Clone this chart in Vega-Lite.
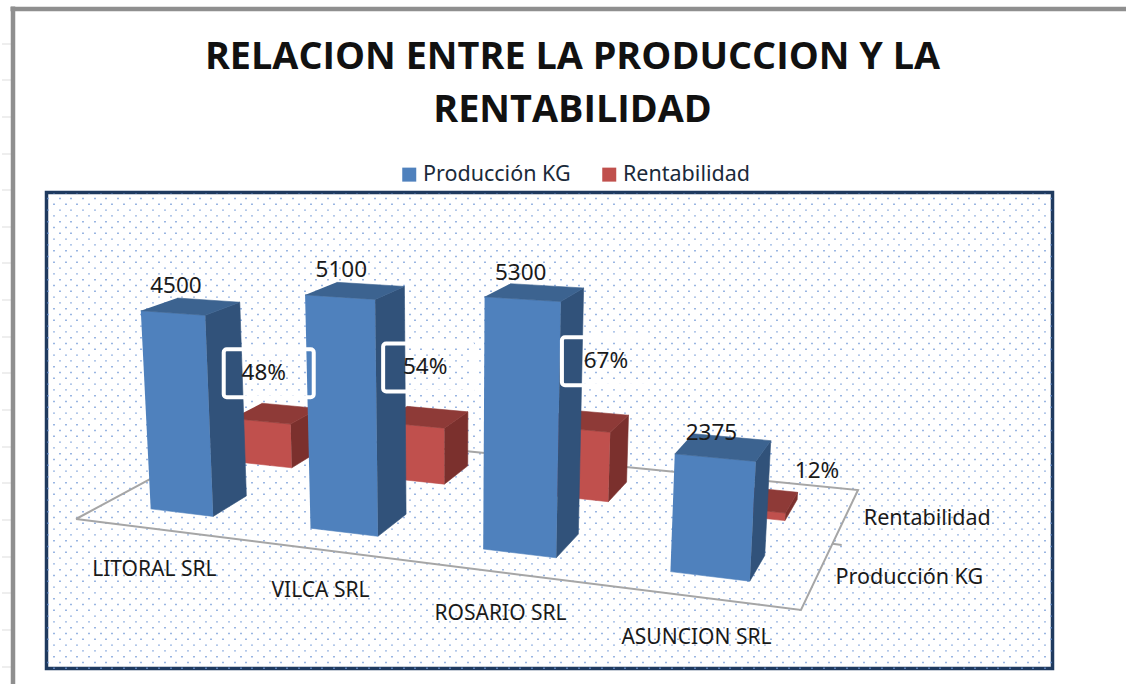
{
"$schema":"https://vega.github.io/schema/vega-lite/v6.json",
"autosize":{"type":"none"},
"padding":{"left":46.5,"top":192.5,"right":73.5,"bottom":15.5},
"width":1006,"height":476,
"background":"white",
"view":{"stroke":"#1f3a5f","strokeWidth":3.5,"fill":"white"},
"title":{"text":["RELACION ENTRE LA PRODUCCION Y LA","RENTABILIDAD"],"font":"Open Sans","fontSize":37.8,"fontWeight":"bold","color":"#111111","lineHeight":53,"anchor":"middle","dx":23,"offset":0,"dy":121,"frame":"group"},
"datasets":{"filas":[
{"empresa":"LITORAL SRL","serie":"Rentabilidad","valor":48},
{"empresa":"VILCA SRL","serie":"Rentabilidad","valor":54},
{"empresa":"ROSARIO SRL","serie":"Rentabilidad","valor":67},
{"empresa":"ASUNCION SRL","serie":"Rentabilidad","valor":12},
{"empresa":"LITORAL SRL","serie":"Producción KG","valor":4500},
{"empresa":"VILCA SRL","serie":"Producción KG","valor":5100},
{"empresa":"ROSARIO SRL","serie":"Producción KG","valor":5300},
{"empresa":"ASUNCION SRL","serie":"Producción KG","valor":2375}
]},
"resolve":{"scale":{"x":"independent","y":"independent","fill":"independent","stroke":"independent"},"axis":{"x":"independent","y":"independent"},"legend":{"fill":"independent"}},
"layer":[
{"data":{"name":"filas"},
 "mark":{"type":"square","size":0},
 "encoding":{
  "x":{"field":"valor","type":"quantitative","scale":{"domain":[-1.2,171.35],"nice":false,"zero":false},
   "axis":{"title":null,"labels":false,"ticks":false,"domain":false,"grid":true,"tickCount":172,"tickMinStep":1,"gridColor":"#6f97d6","gridWidth":1.4,"gridDash":[1.4,10.2],"gridDashOffset":{"condition":{"test":"datum.value%2==0","value":0},"value":5.8}}},
  "fill":{"field":"serie","type":"nominal","scale":{"domain":["Producción KG","Rentabilidad"],"range":["#4f81bd","#c0504d"]},
   "legend":{"title":null,"orient":"none","legendX":352,"legendY":-29,"direction":"horizontal","symbolType":"square","symbolSize":196,"symbolOpacity":1,"symbolStrokeWidth":0,"labelFont":"Noto Sans","labelFontSize":21.5,"labelColor":"#1a2a3a","labelOffset":3,"columnPadding":27}}
 }},
{"data":{"name":"filas"},
 "mark":{"type":"square","size":0},
 "encoding":{
  "x":{"field":"valor","type":"quantitative","scale":{"domain":[10,1126],"range":[-36.5,1079.5],"nice":false,"zero":false},
   "axis":{"title":null,"labels":false,"ticks":false,"grid":false,"orient":"top","offset":184,"domain":true,"domainColor":"#8f8f8f","domainWidth":4.5}},
  "y":{"field":"valor","type":"quantitative","scale":{"domain":[684,6],"range":[491.5,-186.5],"nice":false,"zero":false},
   "axis":{"title":null,"labels":false,"grid":false,"orient":"left","offset":34,"domain":true,"domainColor":"#8f8f8f","domainWidth":4.5,"ticks":true,"tickSize":11,"tickColor":"#dddddd","tickWidth":1,"values":[43,79.6,116.3,153,189.6,226.3,262.9,299.6,336.2,372.9,409.5,446.2,482.8,519.5,556.1,592.8,629.4,666]}}
 }},
{"data":{"values":[{"elemento":"piso"},{"elemento":"marca"}]},
 "transform":[
  {"calculate":"datum.elemento=='piso'?[{o:0,u:0,v:0},{o:1,u:1,v:0},{o:2,u:1,v:1},{o:3,u:0,v:1},{o:4,u:0,v:0}]:[{o:0,u:1,v:0.5},{o:1,u:1.012,v:0.5}]","as":"p"},
  {"flatten":["p"]},
  {"calculate":"datum.p.o","as":"o"},
  {"calculate":"1-0.1519*datum.p.u+0.1929*datum.p.v","as":"w"},
  {"calculate":"(603.3*datum.p.u+213.9*datum.p.v+76)/datum.w","as":"px"},
  {"calculate":"(-1.7*datum.p.u-7.2*datum.p.v+519)/datum.w","as":"py"}
 ],
 "mark":{"type":"line","stroke":"#a6a6a6","strokeWidth":2},
 "encoding":{
  "x":{"field":"px","type":"quantitative","axis":null,"scale":{"domain":[46.5,1052.5],"nice":false,"zero":false}},
  "y":{"field":"py","type":"quantitative","axis":null,"scale":{"domain":[668.5,192.5],"nice":false,"zero":false}},
  "detail":{"field":"elemento"},
  "order":{"field":"o","type":"quantitative"}
 }},
{"data":{"name":"filas"},
 "transform":[
  {"calculate":"indexof(['LITORAL SRL','VILCA SRL','ROSARIO SRL','ASUNCION SRL'],datum.empresa)","as":"i"},
  {"calculate":"datum.serie=='Rentabilidad'?1:0","as":"s"},
  {"calculate":"(datum.i+0.3)/4","as":"u0"},{"calculate":"(datum.i+0.7)/4","as":"u1"},
  {"calculate":"datum.s?0.65:0.15","as":"v0"},{"calculate":"datum.v0+0.2","as":"v1"},
  {"calculate":"[{cara:'frente',o:0,u:datum.u0,v:datum.v0,t:0},{cara:'frente',o:1,u:datum.u1,v:datum.v0,t:0},{cara:'frente',o:2,u:datum.u1,v:datum.v0,t:1},{cara:'frente',o:3,u:datum.u0,v:datum.v0,t:1},{cara:'lado',o:0,u:datum.u1,v:datum.v0,t:0},{cara:'lado',o:1,u:datum.u1,v:datum.v1,t:0},{cara:'lado',o:2,u:datum.u1,v:datum.v1,t:1},{cara:'lado',o:3,u:datum.u1,v:datum.v0,t:1},{cara:'tapa',o:0,u:datum.u0,v:datum.v0,t:1},{cara:'tapa',o:1,u:datum.u1,v:datum.v0,t:1},{cara:'tapa',o:2,u:datum.u1,v:datum.v1,t:1},{cara:'tapa',o:3,u:datum.u0,v:datum.v1,t:1}]","as":"p"},
  {"flatten":["p"]},
  {"calculate":"datum.p.o","as":"o"},
  {"calculate":"datum.serie+' '+datum.p.cara","as":"tono"},
  {"calculate":"datum.empresa+' '+datum.tono","as":"cara"},
  {"calculate":"1-0.1519*datum.p.u+0.1929*datum.p.v","as":"w"},
  {"calculate":"(603.3*datum.p.u+213.9*datum.p.v+76)/datum.w","as":"xb"},
  {"calculate":"(-1.7*datum.p.u-7.2*datum.p.v+519)/datum.w","as":"yb"},
  {"calculate":"datum.p.t*(datum.s?[1.0,1.1,1.06,0.62][datum.i]:0.0448)*datum.valor/datum.w","as":"sube"},
  {"calculate":"datum.xb+(datum.xb-450)*datum.sube/6000","as":"px"},
  {"calculate":"datum.yb-datum.sube","as":"py"}
 ],
 "mark":{"type":"line","strokeWidth":0.6},
 "encoding":{
  "x":{"field":"px","type":"quantitative","axis":null,"scale":{"domain":[46.5,1052.5],"nice":false,"zero":false}},
  "y":{"field":"py","type":"quantitative","axis":null,"scale":{"domain":[668.5,192.5],"nice":false,"zero":false}},
  "detail":{"field":"cara"},
  "order":{"field":"o","type":"quantitative"},
  "fill":{"field":"tono","type":"nominal","legend":null,"scale":{"domain":["Producción KG frente","Producción KG lado","Producción KG tapa","Rentabilidad frente","Rentabilidad lado","Rentabilidad tapa"],"range":["#4f81bd","#31527a","#3c6390","#c0504d","#7b302d","#8e3a37"]}},
  "stroke":{"field":"tono","type":"nominal","legend":null,"scale":{"domain":["Producción KG frente","Producción KG lado","Producción KG tapa","Rentabilidad frente","Rentabilidad lado","Rentabilidad tapa"],"range":["#4f81bd","#31527a","#3c6390","#c0504d","#7b302d","#8e3a37"]}}
 }},
{"data":{"name":"filas"},
 "transform":[
  {"filter":"datum.serie=='Rentabilidad' && datum.empresa!='ASUNCION SRL'"},
  {"calculate":"indexof(['LITORAL SRL','VILCA SRL','ROSARIO SRL','ASUNCION SRL'],datum.empresa)","as":"i"},
  {"calculate":"(datum.i+0.5)/4","as":"um"},
  {"calculate":"1-0.1519*datum.um+0.1929*0.75","as":"w"},
  {"calculate":"(603.3*datum.um+213.9*0.75+76)/datum.w","as":"xb"},
  {"calculate":"(-1.7*datum.um-7.2*0.75+519)/datum.w","as":"yb"},
  {"calculate":"1.05*datum.valor/datum.w","as":"sube"},
  {"calculate":"datum.xb+(datum.xb-450)*datum.sube/6000+[-7,3,21,64][datum.i]","as":"cx"},
  {"calculate":"datum.yb-datum.sube+[-38,-52,-60,-28][datum.i]","as":"cy"},
  {"calculate":"datum.cx-45","as":"x0"},{"calculate":"datum.cx+45","as":"x1"},
  {"calculate":"datum.cy-24","as":"y0"},{"calculate":"datum.cy+24","as":"y1"}
 ],
 "mark":{"type":"rect","fillOpacity":0,"fill":"white","stroke":"white","strokeWidth":4,"cornerRadius":3},
 "encoding":{
  "x":{"field":"x0","type":"quantitative","axis":null,"scale":{"domain":[46.5,1052.5],"nice":false,"zero":false}},
  "x2":{"field":"x1"},
  "y":{"field":"y0","type":"quantitative","axis":null,"scale":{"domain":[668.5,192.5],"nice":false,"zero":false}},
  "y2":{"field":"y1"}
 }},
{"data":{"name":"filas"},
 "transform":[
  {"calculate":"indexof(['LITORAL SRL','VILCA SRL','ROSARIO SRL','ASUNCION SRL'],datum.empresa)","as":"i"},
  {"calculate":"datum.serie=='Rentabilidad'?1:0","as":"s"},
  {"calculate":"(datum.i+0.5)/4","as":"um"},
  {"calculate":"datum.s?0.75:0.25","as":"vm"},
  {"calculate":"1-0.1519*datum.um+0.1929*datum.vm","as":"w"},
  {"calculate":"(603.3*datum.um+213.9*datum.vm+76)/datum.w","as":"xb"},
  {"calculate":"(-1.7*datum.um-7.2*datum.vm+519)/datum.w","as":"yb"},
  {"calculate":"(datum.s?1.05:0.0448)*datum.valor/datum.w","as":"sube"},
  {"calculate":"datum.xb+(datum.xb-450)*datum.sube/6000+(datum.s?[-12,0,20,61]:[-15,-14,-14,-12])[datum.i]","as":"lx"},
  {"calculate":"datum.yb-datum.sube+(datum.s?[-38,-52,-60,-23]:[-20,-21,-19,-14])[datum.i]","as":"ly"},
  {"calculate":"datum.s?datum.valor+'%':''+datum.valor","as":"etiqueta"}
 ],
 "mark":{"type":"text","font":"Noto Sans","fontSize":22.5,"color":"#1a1a1a","align":"center","baseline":"middle"},
 "encoding":{
  "x":{"field":"lx","type":"quantitative","axis":null,"scale":{"domain":[46.5,1052.5],"nice":false,"zero":false}},
  "y":{"field":"ly","type":"quantitative","axis":null,"scale":{"domain":[668.5,192.5],"nice":false,"zero":false}},
  "text":{"field":"etiqueta"}
 }},
{"data":{"name":"filas"},
 "transform":[
  {"filter":"datum.serie=='Producción KG'"},
  {"calculate":"indexof(['LITORAL SRL','VILCA SRL','ROSARIO SRL','ASUNCION SRL'],datum.empresa)","as":"i"},
  {"calculate":"(datum.i+0.5)/4","as":"um"},
  {"calculate":"1-0.1519*datum.um","as":"w"},
  {"calculate":"(603.3*datum.um+76)/datum.w","as":"lx"},
  {"calculate":"(-1.7*datum.um+519)/datum.w+41.5","as":"ly"}
 ],
 "mark":{"type":"text","font":"Noto Sans","fontSize":21,"color":"#1a1a1a","align":"center","baseline":"middle"},
 "encoding":{
  "x":{"field":"lx","type":"quantitative","axis":null,"scale":{"domain":[46.5,1052.5],"nice":false,"zero":false}},
  "y":{"field":"ly","type":"quantitative","axis":null,"scale":{"domain":[668.5,192.5],"nice":false,"zero":false}},
  "text":{"field":"empresa"}
 }},
{"data":{"name":"filas"},
 "transform":[
  {"filter":"datum.empresa=='ASUNCION SRL'"},
  {"calculate":"datum.serie=='Rentabilidad'?0.75:0.25","as":"vm"},
  {"calculate":"1-0.1519+0.1929*datum.vm","as":"w"},
  {"calculate":"(603.3+213.9*datum.vm+76)/datum.w+18","as":"lx"},
  {"calculate":"(-1.7-7.2*datum.vm+519)/datum.w+3","as":"ly"}
 ],
 "mark":{"type":"text","font":"Noto Sans","fontSize":21.5,"color":"#1a1a1a","align":"left","baseline":"middle"},
 "encoding":{
  "x":{"field":"lx","type":"quantitative","axis":null,"scale":{"domain":[46.5,1052.5],"nice":false,"zero":false}},
  "y":{"field":"ly","type":"quantitative","axis":null,"scale":{"domain":[668.5,192.5],"nice":false,"zero":false}},
  "text":{"field":"serie"}
 }}
]}
